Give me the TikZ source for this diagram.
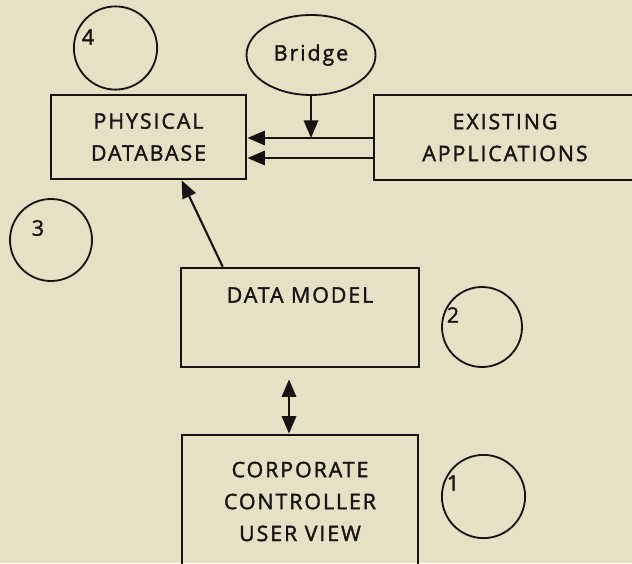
\documentclass[tikz,border=0pt]{standalone}
\usepackage{fontspec}
\setmainfont[LetterSpace=9,FakeBold=1.6]{Open Sans}
\usepackage{xcolor}
\usepackage{tikz}
\usetikzlibrary{arrows.meta,shapes.geometric}

\definecolor{paper}{RGB}{229,225,199}
\definecolor{ink}{RGB}{22,19,16}

\begin{document}
\begin{tikzpicture}[
    font=\fontsize{15.2}{22.7}\selectfont,
    text=ink,
    box/.style={draw=ink, line width=1.9pt, rectangle, align=center},
    ring/.style={draw=ink, line width=1.3pt, circle},
    arr/.style={draw=ink, line width=1.5pt, -{Triangle[length=0.44cm,width=0.36cm]}},
    dblarr/.style={draw=ink, line width=1.5pt, {Triangle[length=0.44cm,width=0.36cm]}-{Triangle[length=0.44cm,width=0.36cm]}}
]
    % Paper background, fixes the page size
    \fill[paper] (0,0) rectangle (15.8,14.075);
    \useasboundingbox (0,0) rectangle (15.8,14.075);

    % Boxes
    \node[box, minimum width=4.875cm, minimum height=2.1cm] (pd) at (3.7125,10.65) {PHYSICAL\\DATABASE};
    \node[box, minimum width=6.55cm, minimum height=2.125cm] (ea) at (12.625,10.6375) {EXISTING\\APPLICATIONS};
    \node[box, minimum width=5.95cm, minimum height=2.475cm] (dm) at (7.5,6.1375) {};
    \node (dmtext) at (7.5,6.7) {DATA MODEL};
    \node[box, minimum width=5.9cm, minimum height=3.325cm] (cc) at (7.5,1.5375) {CORPORATE\\CONTROLLER\\USER VIEW};

    % Bridge
    \node[draw=ink, line width=1.3pt, ellipse, minimum width=3.225cm, minimum height=2cm, inner sep=0pt] (bridge) at (7.775,12.7) {Bridge};

    % Numbered circles
    \node[ring, minimum size=2.08cm] (c4) at (2.8875,12.875) {};
    \node (n4) at (2.2,13.15) {4};
    \node[ring, minimum size=2.05cm] (c3) at (1.275,8.075) {};
    \node (n3) at (0.95,8.375) {3};
    \node[ring, minimum size=2cm] (c2) at (12.05,5.9) {};
    \node (n2) at (11.325,6.2) {2};
    \node[ring, minimum size=2.08cm] (c1) at (12.0875,1.6625) {};
    \node (n1) at (11.325,2.0) {1};

    % Levels of the two feeds
    \coordinate (a1) at (0,10.625);
    \coordinate (a2) at (0,10.125);

    % Connections
    \draw[arr] (ea.west |- a1) -- (pd.east |- a1);
    \draw[arr] (ea.west |- a2) -- (pd.east |- a2);
    \draw[arr] (bridge.south) -- (bridge.south |- a1);
    \draw[arr] ([xshift=1.075cm]dm.north west) -- ([xshift=3.3cm]pd.south west);
    \draw[dblarr] ([xshift=-0.275cm,yshift=-0.275cm]dm.south) -- ([xshift=-0.275cm]cc.north);
\end{tikzpicture}
\end{document}
